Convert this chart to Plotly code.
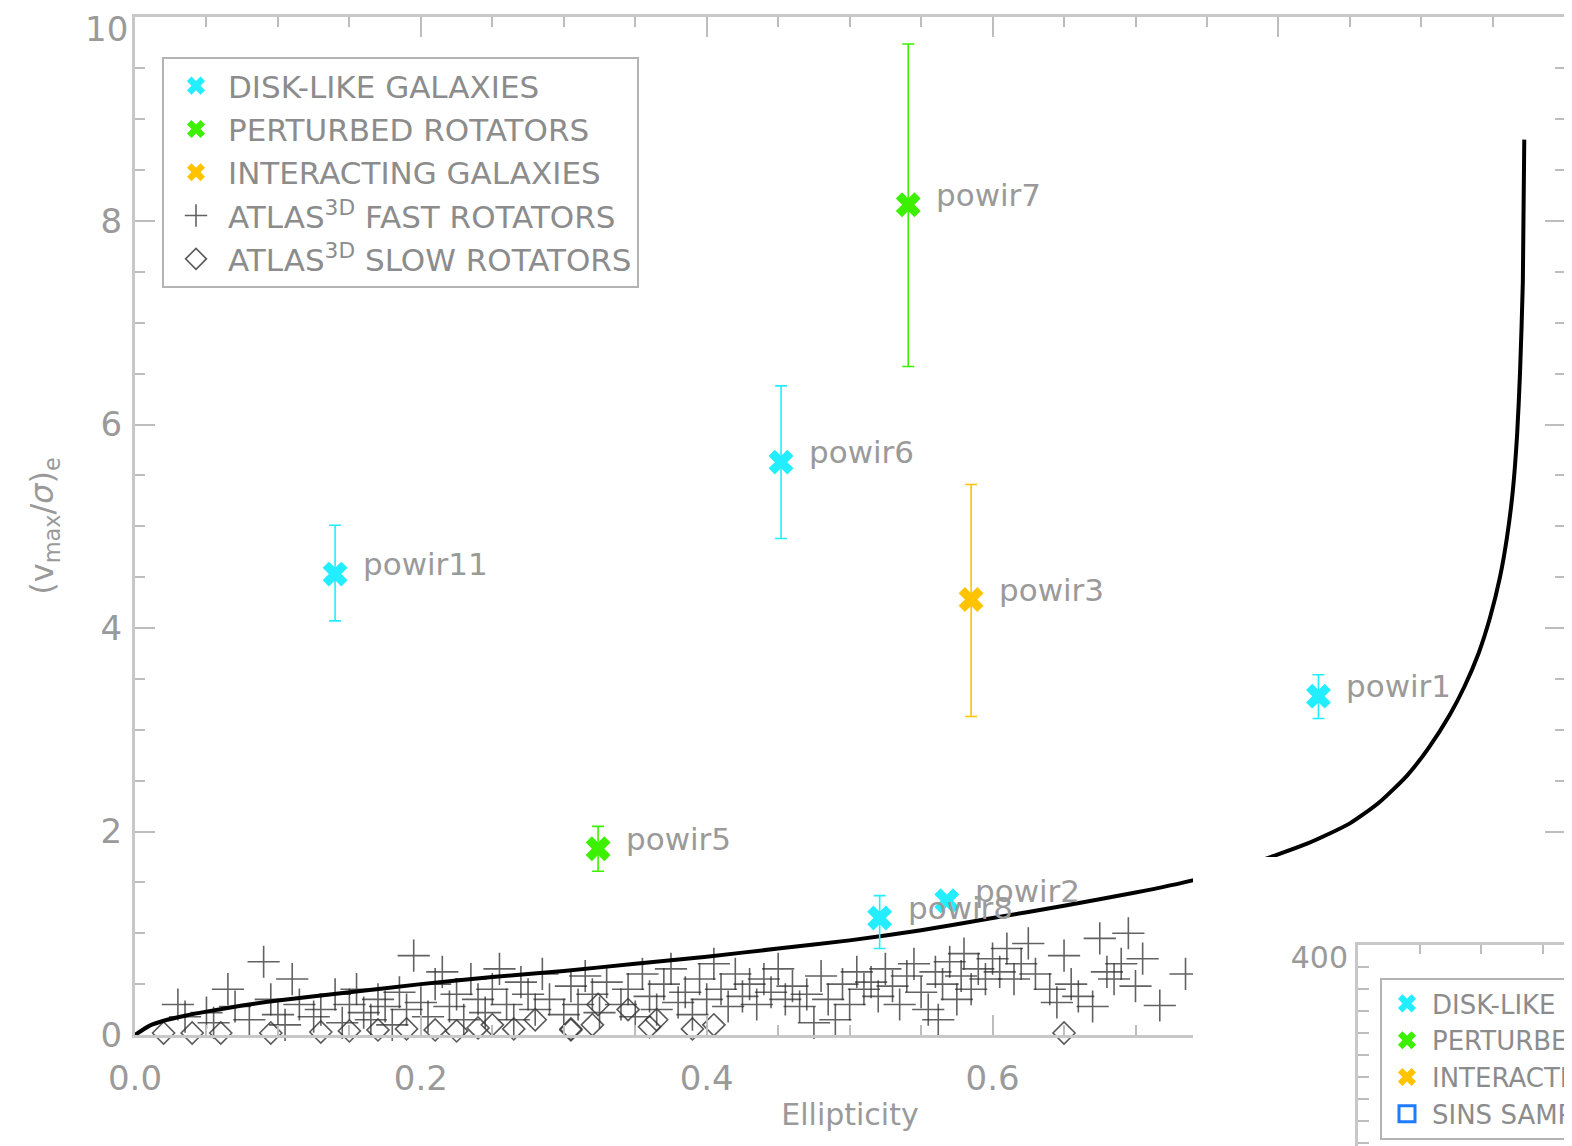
import plotly.graph_objects as go

# The page body adds an 8 px offset; the figure is sized so it ends at the window edge.
OFF = 8
W, H = 1572 - OFF, 1146 - OFF


def px_x(px):
    return (px - OFF) / W


def px_y(py):
    return 1 - (py - OFF) / H


# ---------------- data ----------------
curve_eps = [0, 0.01, 0.02, 0.035, 0.05, 0.075, 0.1, 0.15, 0.2, 0.25, 0.3, 0.35, 0.4, 0.45,
             0.5, 0.55, 0.6, 0.65, 0.7, 0.74, 0.78, 0.82, 0.85, 0.87, 0.89, 0.905, 0.92, 0.93,
             0.94, 0.948, 0.955, 0.96, 0.964, 0.967, 0.969, 0.971, 0.972]
curve_v = [0, 0.09, 0.14, 0.19, 0.23, 0.29, 0.34, 0.42, 0.5, 0.57, 0.63, 0.7, 0.77, 0.85,
           0.93, 1.03, 1.15, 1.27, 1.4, 1.52, 1.68, 1.88, 2.08, 2.28, 2.55, 2.82, 3.15, 3.42,
           3.75, 4.1, 4.5, 4.9, 5.35, 5.9, 6.5, 7.4, 8.8]

gal_names = ["powir1", "powir2", "powir3", "powir5", "powir6", "powir7", "powir8", "powir11"]
gal_eps = [0.828, 0.568, 0.585, 0.324, 0.452, 0.541, 0.521, 0.140]
gal_v = [3.33, 1.32, 4.28, 1.83, 5.63, 8.16, 1.15, 4.53]
gal_err_hi = [0.21, 0.05, 1.13, 0.22, 0.75, 1.58, 0.22, 0.48]
gal_err_lo = [0.22, 0.05, 1.15, 0.22, 0.75, 1.59, 0.30, 0.46]
gal_class = ["disk", "disk", "inter", "pert", "disk", "pert", "disk", "disk"]

fast_eps = [0.03, 0.035, 0.05, 0.055, 0.065, 0.07, 0.08, 0.09, 0.095, 0.10, 0.105, 0.11, 0.115,
            0.125, 0.13, 0.14, 0.145, 0.15, 0.155, 0.16, 0.165, 0.17, 0.175, 0.18, 0.185, 0.19,
            0.195, 0.20, 0.205, 0.21, 0.215, 0.22, 0.225, 0.23, 0.235, 0.24, 0.245, 0.25, 0.255,
            0.26, 0.265, 0.27, 0.275, 0.28, 0.285, 0.29, 0.30, 0.305, 0.31, 0.315, 0.32, 0.325,
            0.33, 0.34, 0.345, 0.35, 0.355, 0.36, 0.365, 0.37, 0.375, 0.38, 0.385, 0.39, 0.395,
            0.40, 0.405, 0.41, 0.415, 0.42, 0.425, 0.43, 0.435, 0.44, 0.445, 0.45, 0.455, 0.46,
            0.465, 0.47, 0.475, 0.48, 0.485, 0.49, 0.495, 0.50, 0.505, 0.51, 0.515, 0.52, 0.525,
            0.53, 0.535, 0.54, 0.545, 0.55, 0.555, 0.56, 0.562, 0.565, 0.57, 0.575, 0.578, 0.58,
            0.585, 0.59, 0.595, 0.60, 0.605, 0.61, 0.615, 0.62, 0.625, 0.63, 0.64, 0.645, 0.65,
            0.655, 0.66, 0.67, 0.675, 0.68, 0.685, 0.69, 0.695, 0.70, 0.705, 0.717, 0.735]
fast_v = [0.30, 0.18, 0.22, 0.12, 0.45, 0.28, 0.15, 0.72, 0.35, 0.20, 0.10, 0.55, 0.30,
          0.18, 0.25, 0.40, 0.12, 0.30, 0.45, 0.22, 0.15, 0.35, 0.28, 0.10, 0.42, 0.25,
          0.78, 0.32, 0.18, 0.50, 0.62, 0.28, 0.40, 0.15, 0.55, 0.35, 0.22, 0.45, 0.65,
          0.30, 0.15, 0.52, 0.40, 0.25, 0.60, 0.35, 0.20, 0.48, 0.30, 0.58, 0.40, 0.22,
          0.52, 0.30, 0.45, 0.18, 0.60, 0.38, 0.25, 0.50, 0.65, 0.32, 0.42, 0.20, 0.55,
          0.35, 0.70, 0.45, 0.28, 0.60, 0.38, 0.50, 0.30, 0.55, 0.42, 0.65, 0.35, 0.48,
          0.28, 0.40, 0.12, 0.58, 0.35, 0.15, 0.50, 0.30, 0.62, 0.45, 0.52, 0.38, 0.65,
          0.48, 0.30, 0.58, 0.70, 0.42, 0.25, 0.62, 0.15, 0.50, 0.72, 0.35, 0.58, 0.80,
          0.45, 0.65, 0.55, 0.75, 0.62, 0.85, 0.55, 0.70, 0.90, 0.60, 0.45, 0.32, 0.78,
          0.50, 0.38, 0.28, 0.95, 0.62, 0.55, 0.70, 1.00, 0.48, 0.75, 0.29, 0.60]

slow_eps = [0.02, 0.04, 0.06, 0.095, 0.13, 0.15, 0.17, 0.19, 0.21, 0.225, 0.24, 0.25, 0.265,
            0.28, 0.305, 0.305, 0.32, 0.324, 0.345, 0.36, 0.365, 0.39, 0.405, 0.65]
slow_v = [0.02, 0.02, 0.02, 0.02, 0.03, 0.04, 0.05, 0.06, 0.05, 0.04, 0.07, 0.10, 0.06,
          0.15, 0.05, 0.06, 0.10, 0.30, 0.25, 0.08, 0.15, 0.06, 0.10, 0.02]

class_names = {"disk": "DISK-LIKE GALAXIES", "pert": "PERTURBED ROTATORS",
               "inter": "INTERACTING GALAXIES"}
class_colors = {"disk": "#22eeff", "pert": "#3cf000", "inter": "#ffc300"}
class_order = ["disk", "pert", "inter"]

y_tickvals = [0, 2, 4, 6, 8, 10]
y_ticktext = ["0", "2", "4", "6", "8", ""]   # "10" is placed as its own label below
y_top_label = "10"

inset_labels = ["DISK-LIKE GALAXIES", "PERTURBED ROTATORS", "INTERACTING GALAXIES", "SINS SAMPLE"]
inset_ytick = [400]

# ---------------- styling constants ----------------
GRAY_TXT = "#9a9a9a"
AX_LINE = "#c8c8c8"
TICK_C = "#bdbdbd"
FONT = "DejaVu Sans, sans-serif"

fig = go.Figure()

# fast rotators
fig.add_trace(go.Scatter(
    x=fast_eps, y=fast_v, mode="markers", name="ATLAS<sup>3D</sup> FAST ROTATORS",
    marker=dict(symbol="cross-thin-open", size=23, color="rgba(45,45,45,0.75)",
                line=dict(width=1.6, color="rgba(45,45,45,0.75)")),
    legendrank=4, cliponaxis=False))
# slow rotators
fig.add_trace(go.Scatter(
    x=slow_eps, y=slow_v, mode="markers", name="ATLAS<sup>3D</sup> SLOW ROTATORS",
    marker=dict(symbol="diamond-open", size=17, color="rgba(60,60,60,0.85)",
                line=dict(width=1.6, color="rgba(60,60,60,0.85)")),
    legendrank=5, cliponaxis=False))
# theoretical curve
fig.add_trace(go.Scatter(
    x=curve_eps, y=curve_v, mode="lines",
    line=dict(color="black", width=4, shape="spline", smoothing=0.6),
    showlegend=False, hoverinfo="skip"))

# galaxy classes
for rank, c in enumerate(class_order):
    idx = [i for i, k in enumerate(gal_class) if k == c]
    fig.add_trace(go.Scatter(
        x=[gal_eps[i] for i in idx], y=[gal_v[i] for i in idx], mode="markers",
        name=class_names[c], legendrank=rank + 1,
        marker=dict(symbol="x", size=22, color=class_colors[c], line=dict(width=0)),
        error_y=dict(type="data", symmetric=False,
                     array=[gal_err_hi[i] for i in idx],
                     arrayminus=[gal_err_lo[i] for i in idx],
                     color=class_colors[c], thickness=1.6, width=6)))

# galaxy name labels
for n, e, v in zip(gal_names, gal_eps, gal_v):
    fig.add_annotation(x=e, y=v, xref="x", yref="y", text=n, showarrow=False,
                       xanchor="left", yanchor="middle", xshift=26, yshift=10,
                       font=dict(size=31, color=GRAY_TXT, family=FONT))

# top y tick label (kept inside the page, slightly below its tick as in the original)
fig.add_annotation(x=px_x(135), xref="paper", y=y_tickvals[-1], yref="y", text=y_top_label,
                   showarrow=False, xanchor="right", yanchor="middle", xshift=-5, yshift=-11,
                   font=dict(size=34, color=GRAY_TXT, family=FONT))

# blank white subplot that hides the lower-right part of the main panel
fig.add_trace(go.Scatter(x=[None], y=[None], xaxis="x2", yaxis="y2", showlegend=False,
                         hoverinfo="skip"))

# inset panel (corner of a second figure) legend entries
inset_syms = [("x", class_colors["disk"]), ("x", class_colors["pert"]),
              ("x", class_colors["inter"]), ("square-open", "#1f7bff")]
for lab, (sym, col) in zip(inset_labels, inset_syms):
    fig.add_trace(go.Scatter(
        x=[None], y=[None], xaxis="x3", yaxis="y3", mode="markers", name=lab,
        legend="legend2",
        marker=dict(symbol=sym, size=16, color=col,
                    line=dict(width=3 if sym == "square-open" else 0, color=col))))

axis_common = dict(showgrid=False, zeroline=False, showline=True, linecolor=AX_LINE,
                   linewidth=3, ticks="inside", tickcolor=TICK_C, tickwidth=2,
                   automargin=False)

fig.update_layout(
    width=W, height=H,
    margin=dict(l=0, r=0, t=0, b=0, autoexpand=False),
    paper_bgcolor="white", plot_bgcolor="white",
    font=dict(family=FONT, color=GRAY_TXT),
    xaxis=dict(domain=[px_x(135), px_x(1565)], range=[0, 1.0005], dtick=0.2, tickformat=".1f",
               ticklen=20, mirror="ticks", anchor="y",
               minor=dict(dtick=0.05, ticklen=10, ticks="inside", tickcolor=TICK_C, tickwidth=2),
               tickfont=dict(size=34, color=GRAY_TXT), ticklabelstandoff=11,
               title=dict(text="Ellipticity", font=dict(size=30, color=GRAY_TXT), standoff=8),
               **axis_common),
    yaxis=dict(domain=[px_y(1035), px_y(17)], range=[0, 10.005],
               tickvals=y_tickvals, ticktext=y_ticktext,
               ticklen=20, mirror="ticks", anchor="x",
               minor=dict(dtick=0.5, ticklen=10, ticks="inside", tickcolor=TICK_C, tickwidth=2),
               tickfont=dict(size=34, color=GRAY_TXT), ticklabelstandoff=3,
               title=dict(text="(v<sub>max</sub>/<i>σ</i>)<sub>e</sub>",
                          font=dict(size=32, color=GRAY_TXT), standoff=38),
               **axis_common),
    xaxis2=dict(domain=[px_x(1193), 1], visible=False, anchor="y2", range=[0, 1]),
    yaxis2=dict(domain=[0, px_y(857)], visible=False, anchor="x2", range=[0, 1]),
    xaxis3=dict(domain=[px_x(1358), 1], anchor="y3", side="top", range=[0, 3.47],
                tickvals=[1, 2, 3], ticklen=9, showticklabels=False, **axis_common),
    yaxis3=dict(domain=[0, px_y(945)], anchor="x3", side="left", range=[308.6, 400.05],
                tickvals=inset_ytick, ticklen=20,
                minor=dict(dtick=10, ticklen=11, ticks="inside", tickcolor=TICK_C, tickwidth=2),
                tickfont=dict(size=30, color=GRAY_TXT), ticklabelstandoff=1,
                ticklabelshift=12, ticklabeloverflow="allow",
                **axis_common),
    legend=dict(x=px_x(162), y=px_y(57), xanchor="left", yanchor="top",
                bordercolor="#b4b4b4", borderwidth=2, bgcolor="white",
                font=dict(size=31, color="#8c8c8c", family=FONT), itemwidth=54,
                traceorder="normal"),
    legend2=dict(x=px_x(1380), y=px_y(978), xanchor="left", yanchor="top",
                 bordercolor="#b4b4b4", borderwidth=2, bgcolor="white",
                 font=dict(size=26, color="#8c8c8c", family=FONT), itemwidth=40),
    showlegend=True,
)

fig.write_html("out.html")
